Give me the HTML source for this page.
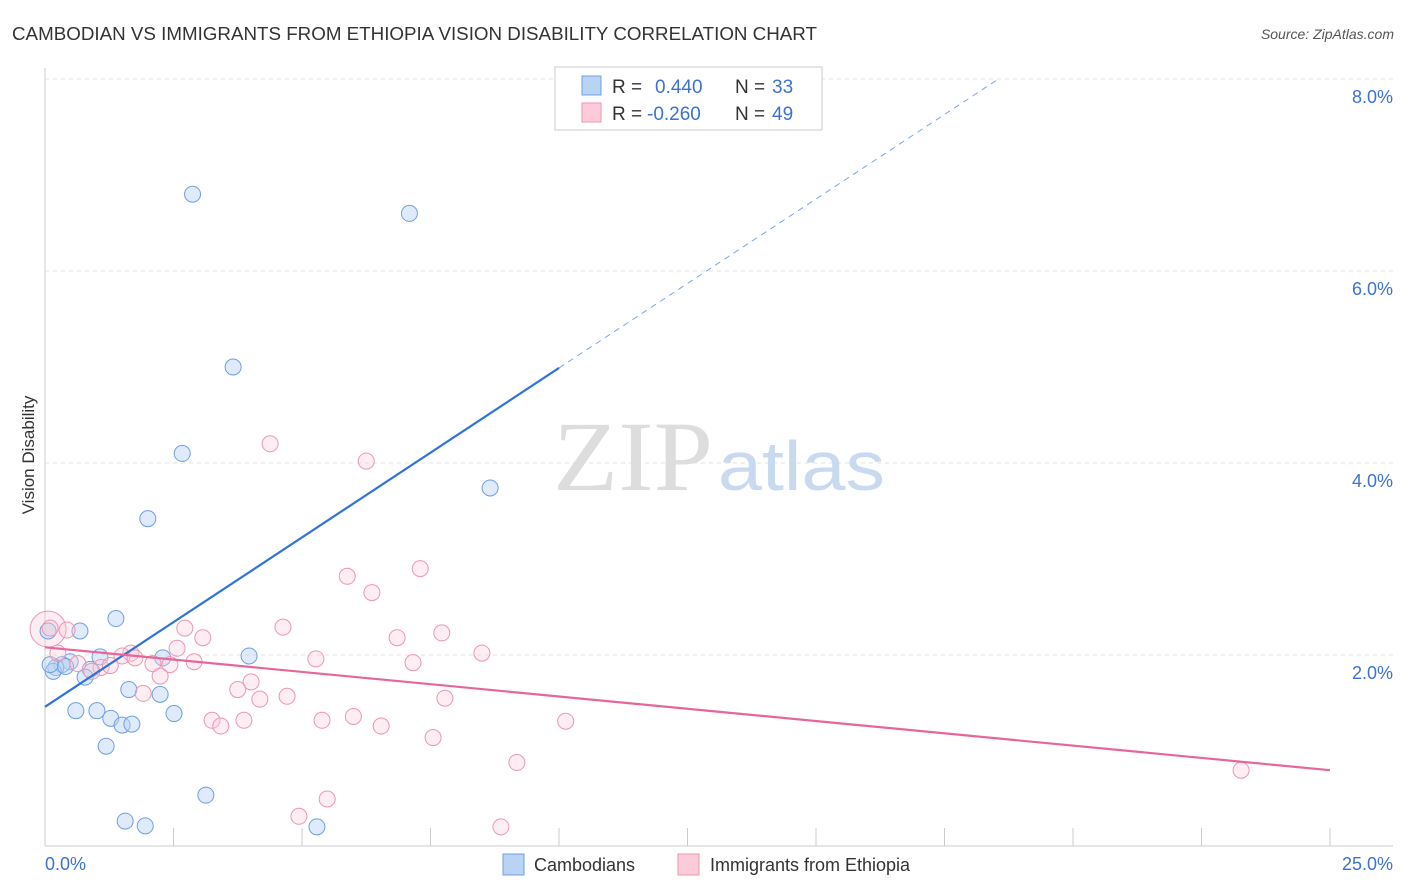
<!DOCTYPE html>
<html><head><meta charset="utf-8"><style>
body{margin:0;background:#fff;font-family:"Liberation Sans",sans-serif;}
svg{display:block}
</style></head><body>
<svg width="1406" height="892">
<text x="12" y="40" font-size="18" fill="#333" textLength="805" lengthAdjust="spacingAndGlyphs">CAMBODIAN VS IMMIGRANTS FROM ETHIOPIA VISION DISABILITY CORRELATION CHART</text>
<text x="1394" y="39" font-size="14" fill="#555" text-anchor="end" font-style="italic">Source: ZipAtlas.com</text>
<g id="grid"></g>
<text x="553" y="490" font-size="100" fill="#ddd" font-family="Liberation Serif" textLength="160" lengthAdjust="spacingAndGlyphs">ZIP</text>
<text x="718" y="490" font-size="70" fill="#c9daf0" textLength="167" lengthAdjust="spacingAndGlyphs">atlas</text>
<text x="34" y="455" font-size="17" fill="#333" text-anchor="middle" transform="rotate(-90 34 455)">Vision Disability</text>
<g id="pts"></g>
<g id="lines"></g>
<rect x="555" y="67" width="267" height="63" fill="#fff" stroke="#ccc"/>
<rect x="582" y="76" width="19" height="19" fill="#b9d3f5" stroke="#6f9fe0"/>
<rect x="582" y="103" width="19" height="19" fill="#fbcbd9" stroke="#ec97b2"/>
<g font-size="19">
<text x="612" y="93" fill="#333">R =</text><text x="655" y="93" fill="#3b73d1">0.440</text>
<text x="735" y="93" fill="#333">N =</text><text x="772" y="93" fill="#3b73d1">33</text></g>
<g font-size="19">
<text x="612" y="120" fill="#333">R =</text><text x="647" y="120" fill="#3b73d1">-0.260</text>
<text x="735" y="120" fill="#333">N =</text><text x="772" y="120" fill="#3b73d1">49</text></g>
<rect x="503" y="854" width="21" height="21" fill="#b9d3f5" stroke="#6f9fe0"/>
<text x="534" y="871" font-size="18" fill="#333">Cambodians</text>
<rect x="678" y="854" width="21" height="21" fill="#fbcbd9" stroke="#ec97b2"/>
<text x="710" y="871" font-size="18" fill="#333">Immigrants from Ethiopia</text>
<text x="45" y="870" font-size="18" fill="#3b73d1">0.0%</text>
<text x="1393" y="870" font-size="18" fill="#3b73d1" text-anchor="end">25.0%</text>
</svg>
<script>
const yTicks=[2,4,6,8];
const yTickLabels=["2.0%","4.0%","6.0%","8.0%"];
const xTicks=[0,2.5,5,7.5,10,12.5,15,17.5,20,22.5,25];
const blueX=[2.87,7.09,3.66,2.67,8.66,2.0,1.38,0.68,0.06,3.97,2.29,1.07,0.49,0.33,0.21,0.16,0.88,0.78,1.63,2.24,0.6,1.01,1.28,2.51,1.5,1.69,1.19,3.13,1.56,1.95,5.29,0.1,0.4];
const blueY=[6.8,6.6,5.0,4.1,3.74,3.42,2.38,2.25,2.25,1.99,1.97,1.98,1.93,1.9,1.87,1.83,1.85,1.77,1.64,1.59,1.42,1.42,1.34,1.39,1.27,1.28,1.05,0.54,0.27,0.22,0.21,1.9,1.88];
const pinkX=[4.38,6.25,7.3,5.88,6.36,4.63,2.72,0.43,3.07,7.72,6.85,8.5,0.25,2.57,1.67,1.5,5.27,7.16,1.75,2.1,2.9,2.43,0.64,1.09,0.91,1.27,2.24,4.01,3.75,1.91,4.71,4.18,7.78,6.0,5.39,3.25,3.87,3.42,6.54,10.13,7.55,9.18,5.49,4.94,8.87,23.27,0.1];
const pinkY=[4.2,4.02,2.9,2.82,2.65,2.29,2.28,2.26,2.18,2.23,2.18,2.02,2.02,2.07,2.02,1.99,1.96,1.92,1.97,1.91,1.93,1.90,1.91,1.87,1.83,1.89,1.78,1.72,1.64,1.60,1.57,1.54,1.55,1.36,1.32,1.32,1.32,1.26,1.26,1.31,1.14,0.88,0.5,0.32,0.21,0.80,2.28];
const blueLine=[[0,1.46],[10,4.99]], blueDash=[[10,4.99],[18.55,8.0]];
const pinkLine=[[0,2.08],[25,0.80]];
const X=v=>45+v*51.4, Y=v=>847-v*96;
const NS="http://www.w3.org/2000/svg";
function mk(t,a,p){const e=document.createElementNS(NS,t);for(const k in a)e.setAttribute(k,a[k]);document.getElementById(p).appendChild(e);return e;}
mk('line',{x1:45,y1:68,x2:45,y2:846,stroke:'#ccc'},'grid');
mk('line',{x1:45,y1:846,x2:1393,y2:846,stroke:'#ccc'},'grid');
yTicks.forEach((t,i)=>{
 const l=mk('line',{x1:45,y1:Y(t),x2:1393,y2:Y(t),stroke:'#e2e2e2','stroke-dasharray':'4,4'},'grid');
 
 
 const tx=mk('text',{x:1393,y:Y(t)+24,'font-size':18,fill:'#3b73d1','text-anchor':'end'},'grid');
 tx.textContent=yTickLabels[i];
 
 
});
xTicks.forEach(t=>{
 const l=mk('line',{x1:X(t),y1:828,x2:X(t),y2:846,stroke:'#ccc'},'grid');
 
 
});
mk('circle',{cx:X(0.06),cy:Y(2.27),r:18,fill:'#fbcbd9','fill-opacity':0.35,stroke:'#ec97b2'},'pts');
blueX.forEach((x,i)=>{
 const c=mk('circle',{cx:X(x),cy:Y(blueY[i]),r:8,fill:'#b9d3f5','fill-opacity':0.45,stroke:'#6f9fe0','stroke-width':1},'pts');
 
 
});
pinkX.forEach((x,i)=>{
 const c=mk('circle',{cx:X(x),cy:Y(pinkY[i]),r:8,fill:'#fbcbd9','fill-opacity':0.35,stroke:'#ec97b2','stroke-width':1},'pts');
 
 
});
const bl=mk('line',{x1:X(blueLine[0][0]),y1:Y(blueLine[0][1]),x2:X(blueLine[1][0]),y2:Y(blueLine[1][1]),stroke:'#2f74d6','stroke-width':2.2},'lines');


const bd=mk('line',{x1:X(blueDash[0][0]),y1:Y(blueDash[0][1]),x2:X(blueDash[1][0]),y2:Y(blueDash[1][1]),stroke:'#7aa6e6','stroke-width':1,'stroke-dasharray':'6,5'},'lines');


const pl=mk('line',{x1:X(pinkLine[0][0]),y1:Y(pinkLine[0][1]),x2:X(pinkLine[1][0]),y2:Y(pinkLine[1][1]),stroke:'#e5679a','stroke-width':2.2},'lines');


</script>
</body></html>
